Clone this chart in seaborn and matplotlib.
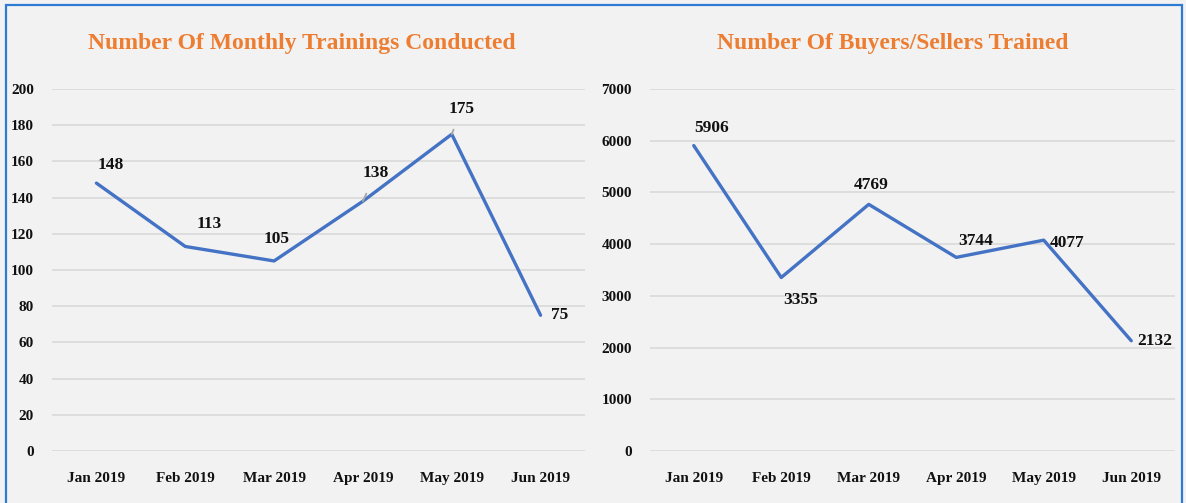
import pandas as pd
import matplotlib.pyplot as plt
import matplotlib.patches as mpatches
import seaborn as sns

months = ['Jan 2019', 'Feb 2019', 'Mar 2019', 'Apr 2019', 'May 2019', 'Jun 2019']
trainings = [148, 113, 105, 138, 175, 75]
trained = [5906, 3355, 4769, 3744, 4077, 2132]

# label offsets in points (dx, dy)
train_offsets = [(10, 13), (17, 16), (2, 16), (9, 20), (7, 18), (14, 0)]
trained_offsets = [(13, 13), (14, -16), (2, 14), (14, 12), (17, -2), (17, 0)]

sns.set_style('white')
plt.rcParams['font.family'] = ['Liberation Serif', 'DejaVu Serif']
plt.rcParams['font.weight'] = 'bold'

bg = '#F2F2F2'
line_col = '#4472C4'
title_col = '#ED7D31'

fig = plt.figure(figsize=(11.86, 5.03), dpi=100, facecolor=bg)
ax1 = fig.add_axes([52 / 1186, 1 - 451 / 503, 533 / 1186, 362 / 503])
ax2 = fig.add_axes([650 / 1186, 1 - 451 / 503, 525 / 1186, 362 / 503])

df1 = pd.DataFrame({'month': months, 'value': trainings})
df2 = pd.DataFrame({'month': months, 'value': trained})


def draw(ax, df, ymax, step, offsets, leaders):
    ax.set_facecolor(bg)
    sns.lineplot(data=df, x='month', y='value', ax=ax, color=line_col, linewidth=2.4, sort=False)
    ax.set_xlim(-0.5, 5.5)
    ax.set_ylim(0, ymax)
    ax.set_yticks(range(0, ymax + 1, step))
    ax.grid(axis='y', color='#D9D9D9', linewidth=1.2)
    ax.grid(axis='x', visible=False)
    for s in ax.spines.values():
        s.set_visible(False)
    ax.tick_params(axis='both', length=0, labelsize=11, colors='#111111')
    ax.tick_params(axis='y', pad=13)
    ax.tick_params(axis='x', pad=15)
    ax.set_xlabel('')
    ax.set_ylabel('')
    for i, (v, off) in enumerate(zip(df['value'], offsets)):
        props = None
        if i in leaders:
            props = dict(arrowstyle='-', color='#A6A6A6', lw=1.3, shrinkA=7, shrinkB=0)
        ax.annotate(str(v), (i, v), xytext=off, textcoords='offset points',
                    ha='center', va='center', fontsize=12.5, fontweight='bold',
                    color='#111111', arrowprops=props)


draw(ax1, df1, 200, 20, train_offsets, [3, 4])
draw(ax2, df2, 7000, 1000, trained_offsets, [])

fig.text(302 / 1186, 1 - 44 / 503, 'Number Of Monthly Trainings Conducted',
         ha='center', va='center', fontsize=17, fontweight='bold', color=title_col)
fig.text(893 / 1186, 1 - 44 / 503, 'Number Of Buyers/Sellers Trained',
         ha='center', va='center', fontsize=17, fontweight='bold', color=title_col)

# blue frame around the slide
fig.patches.append(mpatches.Rectangle((6 / 1186, -0.05), 1176 / 1186, 1.05 - 5 / 503,
                                      transform=fig.transFigure, fill=False,
                                      edgecolor='#2E7BD6', linewidth=1.6))

fig.savefig('out.png', dpi=100, facecolor=bg)
